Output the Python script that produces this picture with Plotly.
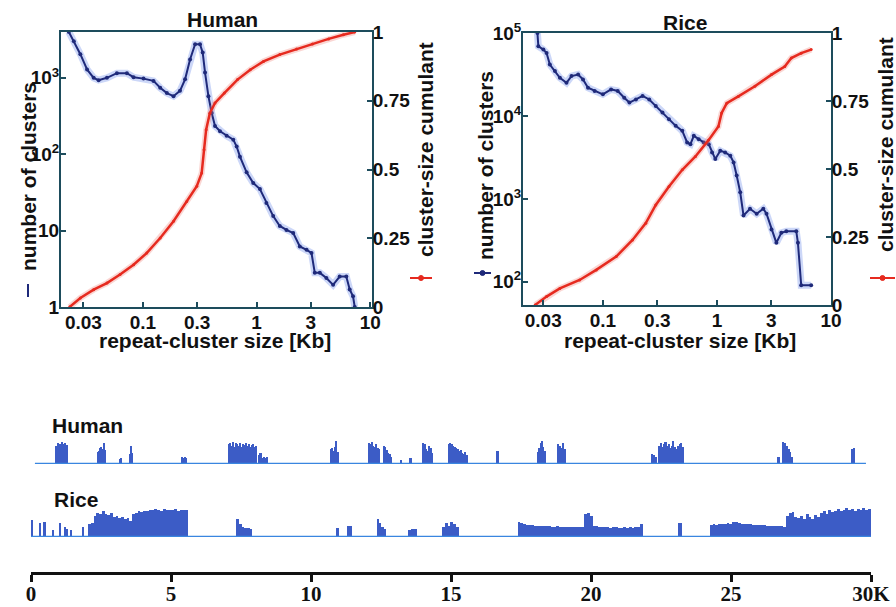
import plotly.graph_objects as go

W, H = 896, 607

# ---------------- Data: Human size distribution ----------------
human_size = [0.0223, 0.0247, 0.0282, 0.0323, 0.0369, 0.0408, 0.0483, 0.0591, 0.0724, 0.0828,
              0.1013, 0.124, 0.142, 0.1625, 0.186, 0.212, 0.235, 0.260, 0.288, 0.318,
              0.336, 0.352, 0.377, 0.403, 0.431, 0.477, 0.545, 0.624, 0.668, 0.714,
              0.817, 0.935, 1.07, 1.22, 1.40, 1.60, 1.83, 2.10, 2.40, 2.75,
              3.04, 3.25, 3.60, 4.11, 4.71, 5.38, 6.15, 6.59, 7.05, 7.30]
human_count = [4000, 3020, 2040, 1290, 1000, 933, 1000, 1150, 1150, 1020,
               977, 912, 741, 631, 575, 676, 955, 1740, 2750, 2750,
               2140, 1175, 575, 347, 234, 200, 174, 155, 126, 93,
               58, 42, 35, 23, 15.5, 11.5, 10.2, 9.3, 6.2, 5.6,
               5.1, 2.8, 2.8, 2.4, 1.95, 2.5, 2.5, 1.7, 1.38, 1.0]
human_cum_size = [0.0227, 0.0282, 0.0369, 0.0483, 0.063, 0.0828, 0.108, 0.142, 0.186, 0.243,
                  0.298, 0.329, 0.345, 0.360, 0.388, 0.431, 0.52, 0.68, 0.88, 1.15,
                  1.60, 2.25, 3.1, 4.3, 5.8, 7.30]
human_cum = [0.0, 0.033, 0.063, 0.087, 0.118, 0.154, 0.196, 0.251, 0.312, 0.384,
             0.439, 0.487, 0.572, 0.645, 0.705, 0.742, 0.778, 0.827, 0.863, 0.893,
             0.918, 0.938, 0.956, 0.975, 0.990, 1.0]

# ---------------- Data: Rice size distribution ----------------
rice_size = [0.0267, 0.0272, 0.0301, 0.0321, 0.0343, 0.0380, 0.0420, 0.0480, 0.0531, 0.0607,
             0.0670, 0.0741, 0.0847, 0.1, 0.118, 0.135, 0.154, 0.171, 0.195, 0.223,
             0.255, 0.291, 0.333, 0.380, 0.435, 0.497, 0.548, 0.586, 0.627, 0.693,
             0.766, 0.847, 0.906, 0.968, 1.07, 1.18, 1.31, 1.40, 1.49, 1.60,
             1.71, 1.95, 2.23, 2.55, 2.72, 3.01, 3.32, 3.67, 4.06, 4.96,
             5.13, 5.48, 6.70]
rice_count = [100000, 69200, 63100, 57500, 41700, 34700, 28800, 25100, 30200, 31600,
              27500, 21900, 20000, 18200, 20900, 20000, 16600, 14500, 15800, 17400,
              15800, 13200, 11000, 9120, 7590, 6610, 4790, 4570, 5750, 5250,
              4790, 4570, 3630, 3020, 3800, 3630, 3310, 2750, 1910, 1200,
              631, 759, 661, 759, 661, 427, 295, 389, 407, 407,
              295, 91, 91]
rice_cum_size = [0.0255, 0.0321, 0.0420, 0.0626, 0.0875, 0.131, 0.182, 0.238, 0.291, 0.380,
                 0.497, 0.648, 0.847, 1.03, 1.10, 1.22, 1.54, 2.15, 3.01, 3.93,
                 4.49, 5.48, 6.70]
rice_cum = [0.0, 0.031, 0.061, 0.092, 0.129, 0.178, 0.239, 0.301, 0.368, 0.436,
            0.497, 0.546, 0.607, 0.656, 0.706, 0.742, 0.767, 0.804, 0.847, 0.877,
            0.908, 0.926, 0.939]

# ---------------- Ticks ----------------
size_tickvals = [0.03, 0.1, 0.3, 1, 3, 10]
size_ticktext = ["0.03", "0.1", "0.3", "1", "3", "10"]
human_count_tickvals = [1, 10, 100, 1000]
human_count_ticktext = ["1", "10", "10<sup>2</sup>", "10<sup>3</sup>"]
rice_count_tickvals = [100, 1000, 10000, 100000]
rice_count_ticktext = ["10<sup>2</sup>", "10<sup>3</sup>", "10<sup>4</sup>", "10<sup>5</sup>"]
cum_tickvals = [0, 0.25, 0.5, 0.75, 1]
cum_ticktext = ["0", "0.25", "0.5", "0.75", "1"]
pos_tickvals = [0, 5, 10, 15, 20, 25, 30]
pos_ticktext = ["0", "5", "10", "15", "20", "25", "30K"]

# ---------------- Data: genomic tracks (position in Kb, relative density) ----------------
human_block_start = [0.89, 2.36, 3.15, 3.50, 5.36, 7.04, 8.12, 10.69, 12.05, 12.58, 13.19, 13.51,
                     13.98, 14.91, 16.62, 18.09, 18.81, 22.17, 22.42, 26.67, 26.85, 29.32]
human_block_end = [1.32, 2.68, 3.25, 3.61, 5.58, 8.08, 8.47, 10.98, 12.48, 12.91, 13.26, 13.59,
                   14.37, 15.59, 16.70, 18.38, 19.09, 22.35, 23.31, 26.74, 27.21, 29.43]
human_block_heights = [
    [0.85, 0.95, 0.9, 1.0, 0.92, 0.97, 0.88],
    [0.55, 0.6, 0.75, 0.8, 0.7, 0.95, 0.65],
    [0.25, 0.28],
    [0.45, 0.85, 0.5],
    [0.35, 0.3, 0.32, 0.28],
    [0.9, 0.95, 0.85, 1.0, 0.8, 0.95, 0.9, 0.85, 0.95, 0.8, 0.92, 0.88, 0.95, 0.85, 0.9, 0.8, 0.88, 0.92, 0.8, 0.85],
    [0.4, 0.5, 0.3, 0.35, 0.3, 0.32],
    [0.7, 0.75, 0.6, 0.8, 1.05, 0.55],
    [0.95, 0.9, 1.0, 0.85, 0.8, 0.9, 0.75, 0.7],
    [0.85, 0.8, 0.65, 0.5, 0.45, 0.35],
    [0.18],
    [0.3],
    [0.95, 0.9, 0.7, 0.6, 0.85, 0.75, 0.5],
    [0.9, 0.95, 0.92, 0.85, 0.8, 0.75, 0.7, 0.6, 0.65, 0.5, 0.45, 0.55, 0.4],
    [0.6],
    [0.55, 0.75, 0.95, 1.05, 0.8, 0.6],
    [0.9, 0.85, 0.75, 0.95, 0.7],
    [0.45, 0.4, 0.35],
    [0.85, 0.95, 0.8, 0.9, 1.0, 0.85, 0.9, 0.75, 0.85, 1.05, 0.8, 0.7, 0.85, 0.9, 0.95, 0.8],
    [0.35],
    [1.0, 0.95, 0.85, 0.7, 0.55, 0.35],
    [0.7, 0.72],
]
human_track_extent = [0.14, 29.82]

rice_block_start = [0.02, 0.30, 0.46, 0.76, 1.02, 1.18, 1.26, 1.41, 1.84, 2.04, 3.61, 7.33,
                    10.90, 11.30, 12.34, 13.48, 14.69, 17.38, 19.74, 20.06, 23.10, 24.24, 26.96]
rice_block_end = [0.08, 0.36, 0.52, 0.80, 1.08, 1.24, 1.30, 1.45, 1.88, 3.61, 5.61, 7.90,
                  11.01, 11.48, 12.69, 13.80, 15.27, 19.74, 20.06, 21.85, 23.24, 26.96, 30.0]
rice_block_heights = [
    [0.6], [0.5], [0.55], [0.25], [0.5], [0.35], [0.3], [0.25], [0.35],
    [0.45, 0.5, 0.75, 0.85, 0.8, 0.9, 0.82, 0.78, 0.86, 0.72, 0.75, 0.68, 0.7, 0.62, 0.66, 0.58],
    [0.8, 0.86, 0.9, 0.88, 0.92, 0.9, 0.95, 0.93, 0.97, 0.95, 0.92, 0.98, 0.96, 0.93, 0.95, 0.97, 0.92, 0.95, 0.93, 0.94],
    [0.65, 0.45, 0.35, 0.32, 0.33, 0.3],
    [0.32],
    [0.38, 0.38],
    [0.62, 0.5, 0.35, 0.3],
    [0.25, 0.3, 0.3],
    [0.35, 0.5, 0.4, 0.52, 0.45, 0.35],
    [0.55, 0.5, 0.45, 0.43, 0.42, 0.44, 0.4, 0.41, 0.39, 0.4, 0.38, 0.39, 0.37, 0.36, 0.38, 0.36, 0.37, 0.35, 0.36, 0.37, 0.35, 0.36, 0.36, 0.35],
    [0.8, 0.85, 0.75],
    [0.4, 0.38, 0.36, 0.35, 0.36, 0.35, 0.34, 0.35, 0.35, 0.33, 0.34, 0.35, 0.34, 0.35, 0.34, 0.36, 0.35, 0.45],
    [0.5],
    [0.42, 0.45, 0.44, 0.46, 0.48, 0.47, 0.5, 0.48, 0.52, 0.55, 0.5, 0.48, 0.47, 0.45, 0.46, 0.44, 0.43, 0.44, 0.42, 0.43, 0.4, 0.41, 0.4, 0.38, 0.4, 0.39, 0.37],
    [0.75, 0.85, 0.88, 0.72, 0.68, 0.75, 0.62, 0.8, 0.7, 0.65, 0.78, 0.72, 0.85, 0.9, 0.82, 0.95, 0.88, 0.92, 0.97, 0.9, 0.95, 1.0, 0.93, 0.97, 0.92, 0.98, 0.95, 1.0, 0.94, 0.98],
]
rice_track_extent = [0.0, 30.0]

# ---------------- Styles ----------------
NAVY = "#1f2a7a"
HALO_BLUE = "rgba(110,140,235,0.35)"
RED = "#e62a1f"
HALO_RED = "rgba(240,120,110,0.30)"
FRAME = "#1d4c5c"
BAR = "#3c5cc6"
BASE = "#3a86e0"
SANS = "Liberation Sans, Arial, sans-serif"
SERIF = "Liberation Serif, Times New Roman, serif"


def px_x(p):
    return p / W


def px_y(p):
    return 1 - p / H


def blocks_to_bars(starts, ends, heights):
    xs, ws, hs = [], [], []
    for s, e, hl in zip(starts, ends, heights):
        n = len(hl)
        w = (e - s) / n
        for i, h in enumerate(hl):
            xs.append(s + (i + 0.5) * w)
            ws.append(w)
            hs.append(h)
    return xs, ws, hs


fig = go.Figure()

# Human panel
fig.add_trace(go.Scatter(x=human_size, y=human_count, mode="lines", line=dict(color=HALO_BLUE, width=7),
                         xaxis="x", yaxis="y", hoverinfo="skip", showlegend=False))
fig.add_trace(go.Scatter(x=human_size, y=human_count, mode="lines+markers", line=dict(color=NAVY, width=2),
                         marker=dict(size=4, color=NAVY), xaxis="x", yaxis="y", showlegend=False))
fig.add_trace(go.Scatter(x=human_cum_size, y=human_cum, mode="lines", line=dict(color=HALO_RED, width=6),
                         xaxis="x", yaxis="y2", hoverinfo="skip", showlegend=False))
fig.add_trace(go.Scatter(x=human_cum_size, y=human_cum, mode="lines+markers", line=dict(color=RED, width=2.5),
                         marker=dict(size=3, color=RED), xaxis="x", yaxis="y2", showlegend=False))

# Rice panel
fig.add_trace(go.Scatter(x=rice_size, y=rice_count, mode="lines", line=dict(color=HALO_BLUE, width=7),
                         xaxis="x2", yaxis="y3", hoverinfo="skip", showlegend=False))
fig.add_trace(go.Scatter(x=rice_size, y=rice_count, mode="lines+markers", line=dict(color=NAVY, width=2),
                         marker=dict(size=4, color=NAVY), xaxis="x2", yaxis="y3", showlegend=False))
fig.add_trace(go.Scatter(x=rice_cum_size, y=rice_cum, mode="lines", line=dict(color=HALO_RED, width=6),
                         xaxis="x2", yaxis="y4", hoverinfo="skip", showlegend=False))
fig.add_trace(go.Scatter(x=rice_cum_size, y=rice_cum, mode="lines+markers", line=dict(color=RED, width=2.5),
                         marker=dict(size=3, color=RED), xaxis="x2", yaxis="y4", showlegend=False))

# Tracks
hx, hw, hh = blocks_to_bars(human_block_start, human_block_end, human_block_heights)
rx, rw, rh = blocks_to_bars(rice_block_start, rice_block_end, rice_block_heights)
fig.add_trace(go.Scatter(x=human_track_extent, y=[0, 0], mode="lines", line=dict(color=BASE, width=2.5),
                         xaxis="x3", yaxis="y5", showlegend=False))
fig.add_trace(go.Bar(x=hx, y=hh, width=hw, marker=dict(color=BAR, line=dict(width=0)),
                     xaxis="x3", yaxis="y5", showlegend=False))
fig.add_trace(go.Scatter(x=rice_track_extent, y=[0, 0], mode="lines", line=dict(color=BASE, width=2.5),
                         xaxis="x3", yaxis="y6", showlegend=False))
fig.add_trace(go.Bar(x=rx, y=rh, width=rw, marker=dict(color=BAR, line=dict(width=0)),
                     xaxis="x3", yaxis="y6", showlegend=False))

tickfont = dict(family=SANS, size=19, color="#111111", weight="bold")
frame = dict(showline=True, linecolor=FRAME, linewidth=2, mirror=True, ticks="inside", ticklen=5,
             tickcolor=FRAME, tickwidth=2, showgrid=False, zeroline=False, tickfont=tickfont,
             automargin=False)

fig.update_layout(
    template="none",
    width=W, height=H,
    margin=dict(l=0, r=0, t=0, b=0, autoexpand=False),
    paper_bgcolor="white", plot_bgcolor="rgba(0,0,0,0)",
    bargap=0,
    showlegend=False,
    xaxis=dict(type="log", range=[-1.72, 1.015], domain=[px_x(61), px_x(372)], anchor="y",
               tickvals=size_tickvals, ticktext=size_ticktext, ticklabelstandoff=-3, **frame),
    yaxis=dict(type="log", range=[0, 3.6], domain=[px_y(307), px_y(32)], anchor="x",
               tickvals=human_count_tickvals, ticktext=human_count_ticktext, ticklabelstandoff=-4, **frame),
    yaxis2=dict(range=[0, 1], overlaying="y", side="right", anchor="x",
                tickvals=cum_tickvals, ticktext=cum_ticktext, ticklabelstandoff=-5, **frame),
    xaxis2=dict(type="log", range=[-1.7, 1.0], domain=[px_x(523), px_x(831)], anchor="y3",
                tickvals=size_tickvals, ticktext=size_ticktext, ticklabelstandoff=-3, **frame),
    yaxis3=dict(type="log", range=[1.72, 5], domain=[px_y(305), px_y(33)], anchor="x2",
                tickvals=rice_count_tickvals, ticktext=rice_count_ticktext, ticklabelstandoff=-4, **frame),
    yaxis4=dict(range=[0, 1], overlaying="y3", side="right", anchor="x2",
                tickvals=cum_tickvals, ticktext=cum_ticktext, ticklabelstandoff=-5, **frame),
    xaxis3=dict(range=[0, 30], domain=[px_x(31), px_x(871)], anchor="free", position=px_y(573),
                showline=True, linecolor="#111111", linewidth=3, ticks="outside", ticklen=7,
                tickwidth=3, tickcolor="#111111", showgrid=False, zeroline=False, automargin=False,
                tickvals=pos_tickvals, ticktext=pos_ticktext, ticklabelstandoff=-6,
                tickfont=dict(family=SERIF, size=21, color="#111111", weight="bold")),
    yaxis5=dict(range=[0, 1.1], domain=[px_y(464), px_y(464 - 22 * 1.1)], anchor="x3", visible=False),
    yaxis6=dict(range=[0, 1.05], domain=[px_y(537), px_y(537 - 29 * 1.05)], anchor="x3", visible=False),
)

lab = dict(family=SANS, size=21, color="#111111", weight="bold")


def ann(text, x, y, angle=0, size=21):
    fig.add_annotation(text=text, x=px_x(x), y=px_y(y), xref="paper", yref="paper", showarrow=False,
                       textangle=angle, xanchor="center", yanchor="middle",
                       font=dict(family=SANS, size=size, color="#111111", weight="bold"))


ann("Human", 222, 20)
ann("Rice", 685, 22)
ann("repeat-cluster size [Kb]", 215, 340)
ann("repeat-cluster size [Kb]", 680, 340)
ann("number of clusters", 28, 177, -90)
ann("cluster-size cumulant", 425, 150, -90)
ann("number of clusters", 485, 166, -90)
ann("cluster-size cumulant", 885, 145, -90)
fig.add_annotation(text="Human", x=px_x(50), y=px_y(425), xref="paper", yref="paper", showarrow=False,
                   xanchor="left", yanchor="middle", font=lab)
fig.add_annotation(text="Rice", x=px_x(52), y=px_y(499), xref="paper", yref="paper", showarrow=False,
                   xanchor="left", yanchor="middle", font=lab)


# legend keys next to axis titles
def key_h(x0, x1, y, color):
    fig.add_shape(type="line", xref="paper", yref="paper", x0=px_x(x0), x1=px_x(x1), y0=px_y(y), y1=px_y(y),
                  line=dict(color=color, width=2))
    cx = (x0 + x1) / 2
    fig.add_shape(type="circle", xref="paper", yref="paper", x0=px_x(cx - 2.5), x1=px_x(cx + 2.5),
                  y0=px_y(y + 2.5), y1=px_y(y - 2.5), fillcolor=color, line=dict(color=color, width=1))


fig.add_shape(type="line", xref="paper", yref="paper", x0=px_x(28), x1=px_x(28), y0=px_y(284), y1=px_y(297),
              line=dict(color=NAVY, width=2))
key_h(410, 432, 278, RED)
key_h(474, 491, 273, NAVY)
key_h(870, 895, 278, RED)

# remove the page's default body margin so the figure fills the window
fig.write_html("out.html", config={"displayModeBar": False},
               post_script="document.body.style.margin='0';document.body.style.overflow='hidden';")
